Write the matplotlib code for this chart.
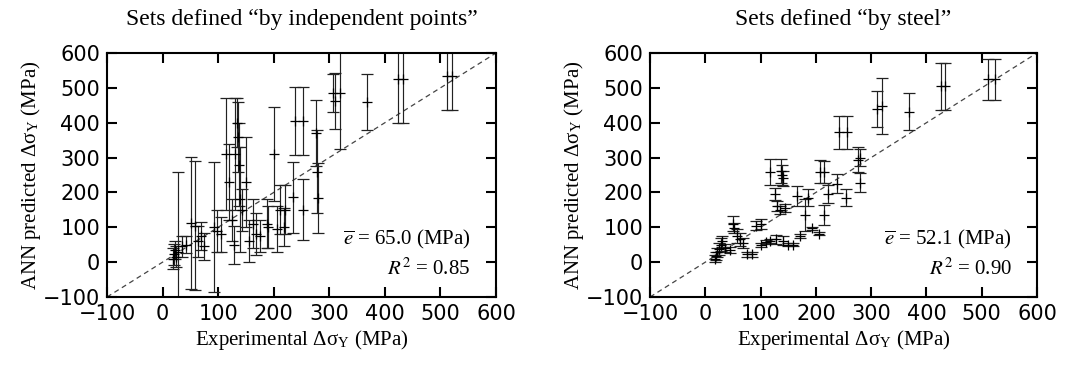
import matplotlib
matplotlib.use("Agg")
import matplotlib.pyplot as plt
import numpy as np

plt.rcParams['mathtext.fontset'] = 'stix'

# panel (a): sets defined "by independent points"
exp_a = [18, 20, 22, 25, 28, 35, 43, 52, 58, 64, 70, 75, 92, 98, 105,
         115, 120, 124, 128, 130, 134, 136, 138, 140, 142, 150, 155, 162,
         168, 175, 187, 190, 200, 205, 212, 218, 220, 235, 238, 253, 253,
         276, 278, 280, 307, 310, 320, 368, 424, 433, 511, 520]
pred_a = [10, 22, 35, 15, 30, 45, 50, 112, 104, 60, 75, 45, 100, 90, 80,
          310, 230, 120, 50, 310, 400, 360, 280, 180, 150, 230, 60, 110,
          80, 75, 110, 100, 310, 95, 150, 100, 150, 186, 405, 405, 151,
          370, 260, 185, 485, 462, 485, 460, 525, 525, 533, 533]
err_a = [30, 30, 25, 30, 228, 30, 25, 190, 185, 45, 40, 40, 187, 60, 50,
         160, 110, 60, 55, 160, 70, 100, 120, 150, 60, 130, 60, 70,
         60, 45, 70, 60, 135, 65, 70, 55, 70, 102, 97, 97, 87,
         95, 120, 100, 55, 80, 160, 80, 125, 125, 96, 96]

# panel (b): sets defined "by steel"
exp_b = [18, 20, 22, 24, 28, 30, 35, 45, 50, 52, 58, 62, 68, 75, 85, 92,
         100, 100, 110, 117, 117, 126, 130, 135, 136, 138, 140, 128, 140,
         145, 150, 158, 165, 172, 180, 185, 193, 205, 207, 215, 214, 222,
         238, 241, 256, 254, 276, 280, 279, 310, 319, 369, 426, 433, 511, 524]
pred_b = [10, 18, 28, 38, 50, 60, 40, 35, 110, 98, 75, 65, 55, 23, 23, 105,
          110, 50, 58, 60, 259, 195, 160, 150, 262, 250, 240, 65, 62,
          155, 50, 50, 190, 75, 135, 185, 97, 82, 260, 258, 135, 195,
          225, 373, 373, 185, 294, 300, 228, 440, 447, 432, 504, 504, 524, 524]
err_b = [10, 12, 14, 18, 18, 16, 12, 8, 22, 14, 20, 18, 14, 7, 7, 14,
         14, 6, 6, 6, 38, 18, 14, 12, 35, 30, 22, 12, 12,
         12, 5, 5, 28, 5, 45, 25, 5, 5, 32, 32, 28, 25,
         28, 47, 47, 25, 35, 25, 27, 52, 80, 52, 67, 67, 58, 58]

titles = ['Sets defined \u201cby independent points\u201d', 'Sets defined \u201cby steel\u201d']
e_bar = ['65.0', '52.1']
r2 = ['0.85', '0.90']

fig = plt.figure(figsize=(10.66, 3.65), dpi=100)
ax1 = fig.add_axes([0.1004, 0.1863, 0.3649, 0.6685])
ax2 = fig.add_axes([0.6098, 0.1863, 0.3630, 0.6685])

serif = 'Liberation Serif'
data = [(exp_a, pred_a, err_a), (exp_b, pred_b, err_b)]

for i, ax in enumerate([ax1, ax2]):
    x, y, e = data[i]
    ax.plot([-100, 600], [-100, 600], ls=(0, (4, 3)), color='#444444', lw=0.9, zorder=1)
    ax.errorbar(x, y, yerr=e, fmt='+', color='black', ecolor='#222222',
                elinewidth=0.85, capsize=4.5, capthick=0.85, markersize=7,
                markeredgewidth=0.9, zorder=2)
    ax.set_xlim(-100, 600)
    ax.set_ylim(-100, 600)
    ax.set_xticks(np.arange(-100, 601, 100))
    ax.set_yticks(np.arange(-100, 601, 100))
    ax.tick_params(direction='in', length=7, width=1.5, top=True, right=True,
                   labelsize=15, pad=5)
    for lab in ax.get_xticklabels() + ax.get_yticklabels():
        lab.set_fontfamily('DejaVu Sans')
    for sp in ax.spines.values():
        sp.set_linewidth(1.5)
    ax.set_title(titles[i], fontfamily=serif, fontsize=17, pad=20)
    ax.set_xlabel('Experimental \u0394\u03c3$_\\mathregular{Y}$ (MPa)',
                  fontfamily=serif, fontsize=15, labelpad=3)
    ax.set_ylabel('ANN predicted \u0394\u03c3$_\\mathregular{Y}$ (MPa)',
                  fontfamily=serif, fontsize=15, labelpad=0)
    ax.text(0.935, 0.235, r'$\overline{e}$ = ' + e_bar[i] + ' (MPa)',
            transform=ax.transAxes, ha='right', va='center',
            fontfamily=serif, fontsize=15)
    ax.text(0.935, 0.115, r'$R^2$ = ' + r2[i],
            transform=ax.transAxes, ha='right', va='center',
            fontfamily=serif, fontsize=15)

fig.savefig('out.png', dpi=100)
